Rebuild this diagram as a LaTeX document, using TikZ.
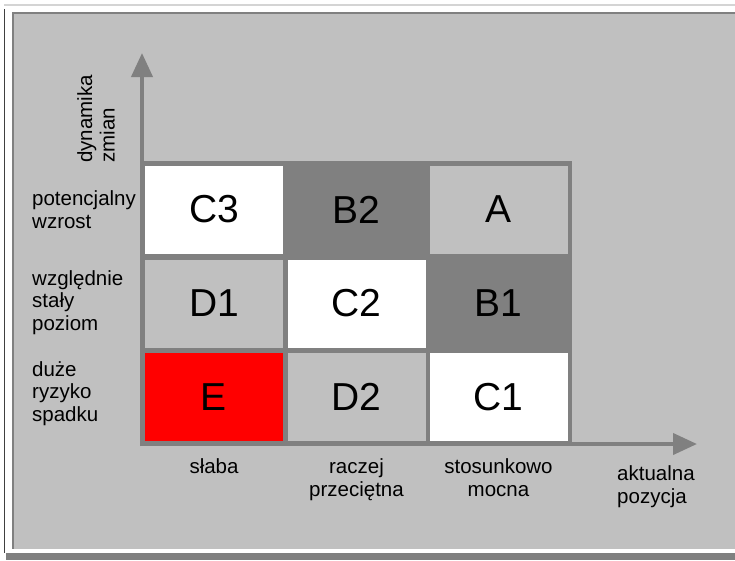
\documentclass[tikz,border=0pt]{standalone}
\usepackage{fontspec}
\setmainfont{Liberation Sans}
\usetikzlibrary{arrows.meta}

\definecolor{panel}{HTML}{C0C0C0}
\definecolor{darkcell}{HTML}{808080}
\definecolor{framedark}{HTML}{404040}
\definecolor{framelight}{HTML}{D4D4D4}

\tikzset{
  cell/.style={minimum width=138pt,minimum height=88pt,inner sep=0pt,font=\fontsize{39}{39}\selectfont},
  axis/.style={line width=4pt,draw=darkcell,-{Triangle[length=24pt,width=21pt]}},
  lbl/.style={inner sep=0pt,align=left,font=\fontsize{20.5}{22.5}\selectfont},
  clbl/.style={inner sep=0pt,align=center,font=\fontsize{20.5}{22.5}\selectfont}
}

\begin{document}
\begin{tikzpicture}[x=1pt,y=-1pt]
		\useasboundingbox (0,0) rectangle (735,560);
		\fill [white] (0,0) rectangle (735,560);
		
		% window frame
		\draw [framelight,line width=2pt] (4,4.5) -- (735,4.5);
		\draw [framedark,line width=1.5pt] (4.5,9) -- (4.5,553);
		\fill [panel] (12,12) rectangle (735,549);
		\draw [darkcell,line width=2pt] (12,12.5) -- (735,12.5);
		\draw [darkcell,line width=2pt] (12.5,12) -- (12.5,549);
		\fill [darkcell] (6,553) rectangle (735,560);
		
		% grid
		\fill [darkcell] (142,161) rectangle (572,445);
		\node [cell,fill=white]    (c3) at (214,209.5) {C3};
		\node [cell,fill=darkcell] (b2) at (356.5,209.5) {B2};
		\node [cell,fill=panel]    (a)  at (498.5,209.5) {A};
		\node [cell,fill=panel]    (d1) at (214,303.5) {D1};
		\node [cell,fill=white]    (c2) at (356.5,303.5) {C2};
		\node [cell,fill=darkcell] (b1) at (498.5,303.5) {B1};
		\node [cell,fill=red]      (e)  at (214,397) {E};
		\node [cell,fill=panel]    (d2) at (356.5,397) {D2};
		\node [cell,fill=white]    (c1) at (498.5,397) {C1};
		
		% axes
		\coordinate (origin) at (142,444);
		\coordinate (ytip) at (142,53);
		\coordinate (xtip) at (697,444);
		\draw [axis] (142,446) -- (ytip);
		\draw [axis] (origin) -- (xtip);
		
		% base anchor sits on the last line
		\node [lbl,rotate=90,anchor=base west] (ylabel) at (114.5,163) {dynamika\\zmian};
		\node [lbl,anchor=base west] (xlabel) at (617,503) {aktualna\\pozycja};
		
		\node [lbl,anchor=base west] (row3) at (32,228) {potencjalny\\wzrost};
		\node [lbl,anchor=base west] (row2) at (32,330) {względnie\\stały\\poziom};
		\node [lbl,anchor=base west] (row1) at (32,421) {duże\\ryzyko\\spadku};
		
		\node [clbl,anchor=base] (col1) at (214,473) {słaba};
		\node [clbl,anchor=base] (col2) at (356.5,496) {raczej\\przeciętna};
		\node [clbl,anchor=base] (col3) at (498.5,496) {stosunkowo\\mocna};
\end{tikzpicture}
\end{document}
